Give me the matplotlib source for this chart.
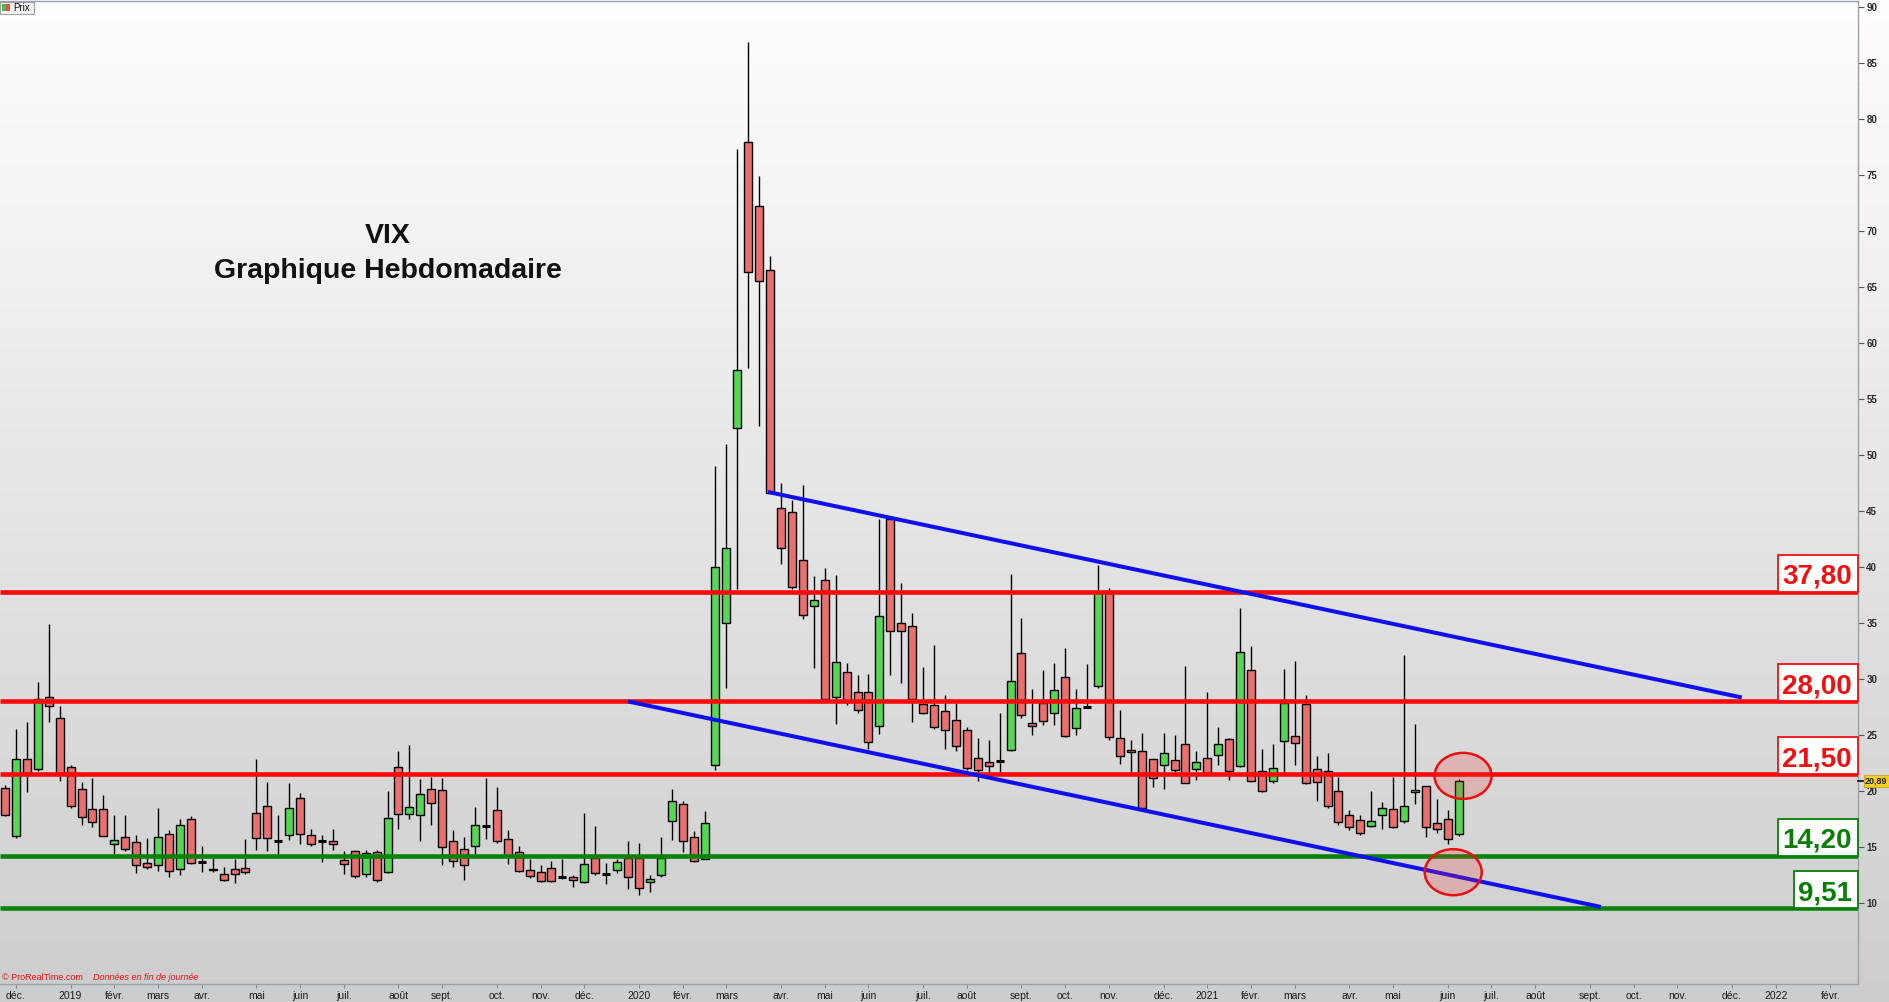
import numpy as np
import matplotlib
matplotlib.use("Agg")
import matplotlib.pyplot as plt
from matplotlib.patches import Rectangle, Ellipse
from matplotlib.transforms import IdentityTransform
import datetime as dt

plt.rcParams['font.family'] = ['Liberation Sans', 'DejaVu Sans']

# ---------------- data ----------------
first_week = dt.date(2018, 11, 26)   # Monday of the first weekly candle

opens = [20.3, 15.95, 22.9, 22.0, 28.36, 26.49, 22.1, 20.15, 18.36, 18.36,
         15.3, 15.86, 15.42, 13.54, 13.36, 16.13, 13.0, 17.47, 13.69, 13.07,
         12.56, 13.07, 13.1, 18.0, 18.63, 15.57, 16.04, 19.35, 16.04, 15.53,
         15.5, 13.8, 14.6, 12.56, 14.52, 12.74, 22.17, 17.92, 17.83, 20.15,
         20.06, 15.5, 14.79, 15.06, 16.9, 18.27, 15.68, 14.58, 12.92, 12.74,
         13.1, 12.32, 12.29, 11.85, 13.99, 12.62, 12.92, 13.99, 13.99, 11.85,
         12.47, 17.29, 18.8, 15.86, 13.9, 22.29, 35.0, 52.38, 77.98, 72.26,
         66.5, 45.3, 44.94, 40.6, 36.49, 38.81, 28.36, 30.66, 28.81, 28.81,
         25.77, 44.26, 34.97, 34.7, 27.74, 27.65, 27.11, 26.31, 25.42, 22.92,
         22.56, 22.68, 23.63, 32.29, 26.04, 27.83, 26.94, 30.15, 25.6, 27.5,
         29.35, 37.65, 24.7, 23.63, 23.54, 22.83, 22.29, 22.74, 24.17, 21.94,
         22.92, 23.18, 24.61, 22.2, 30.77, 21.76, 20.86, 24.43, 24.88, 27.74,
         21.94, 21.76, 19.97, 17.83, 17.38, 16.85, 17.83, 18.36, 17.29, 19.88,
         20.42, 17.11, 17.47, 16.13]

highs = [20.5, 25.5, 26.13, 29.7, 34.9, 27.6, 22.29, 20.8, 21.2, 19.6,
         17.82, 17.82, 16.04, 15.8, 18.45, 16.49, 17.47, 17.74, 15.12, 13.99,
         13.18, 13.9, 15.68, 22.9, 20.77, 17.82, 20.7, 19.79, 16.58, 16.04,
         16.58, 14.6, 14.7, 14.7, 14.7, 19.97, 23.54, 24.07, 21.04, 21.22,
         21.13, 16.49, 15.86, 18.54, 21.2, 20.4, 16.49, 15.06, 13.9, 13.36,
         13.72, 13.9, 12.47, 18.0, 16.9, 13.54, 13.9, 15.5, 15.32, 12.47,
         15.9, 20.15, 19.08, 16.4, 18.18, 49.0, 51.0, 77.3, 86.85, 74.9,
         67.8, 47.5, 46.0, 47.3, 39.17, 39.88, 39.26, 31.46, 30.33, 30.48,
         44.26, 44.5, 38.54, 35.86, 31.04, 33.07, 28.54, 27.83, 25.68, 24.76,
         24.52, 27.0, 39.35, 35.42, 29.08, 30.77, 31.43, 32.74, 29.08, 31.37,
         40.15, 38.1, 27.2, 24.52, 25.15, 22.83, 25.15, 24.97, 31.13, 23.54,
         28.81, 25.68, 24.7, 36.31, 32.92, 23.72, 24.17, 30.86, 31.58, 28.54,
         23.1, 23.36, 21.22, 18.27, 17.83, 19.97, 18.99, 21.22, 32.11, 25.95,
         20.42, 19.26, 18.27, 21.04]

lows = [17.8, 15.83, 19.94, 21.8, 26.16, 20.9, 18.51, 17.0, 16.8, 15.95,
        14.4, 14.6, 12.65, 13.06, 12.9, 12.35, 12.47, 13.45, 12.8, 12.74,
        11.93, 11.8, 12.56, 14.7, 14.6, 14.4, 15.6, 15.24, 15.12, 13.69,
        14.7, 12.56, 12.2, 12.29, 11.85, 12.65, 16.58, 17.47, 15.5, 17.0,
        13.36, 13.18, 12.02, 14.4, 15.74, 15.32, 13.45, 12.74, 12.2, 11.85,
        11.85, 12.1, 11.4, 11.76, 12.47, 11.67, 12.65, 11.22, 10.71, 10.95,
        12.29, 15.6, 14.52, 13.63, 13.9, 21.9, 29.17, 38.0, 57.74, 52.6,
        46.6, 40.3, 38.07, 35.4, 31.0, 28.0, 25.95, 27.65, 27.0, 23.72,
        25.06, 30.36, 29.6, 26.13, 26.85, 25.5, 23.72, 23.54, 21.9, 20.86,
        21.73, 21.73, 23.54, 26.49, 24.97, 25.86, 25.86, 24.79, 24.97, 27.4,
        29.17, 24.52, 22.38, 21.58, 18.27, 20.33, 20.15, 21.67, 20.68, 20.95,
        21.49, 22.29, 20.95, 22.11, 20.77, 19.88, 20.68, 21.6, 22.29, 20.6,
        19.08, 18.45, 16.93, 16.49, 16.04, 16.76, 16.58, 16.67, 17.11, 18.81,
        15.86, 16.22, 15.24, 15.95]

closes = [17.9, 22.9, 21.6, 28.24, 27.56, 21.58, 18.69, 17.65, 17.2, 15.95,
          15.6, 14.79, 13.36, 13.18, 15.86, 12.83, 16.93, 13.54, 13.69, 12.92,
          12.02, 12.56, 12.74, 15.77, 15.77, 15.57, 18.45, 16.13, 15.24, 15.53,
          15.24, 13.45, 12.38, 14.43, 12.02, 17.56, 17.92, 18.54, 19.7, 18.9,
          14.97, 13.72, 13.36, 16.93, 16.9, 15.5, 14.17, 12.83, 12.38, 11.93,
          11.93, 12.32, 12.02, 13.45, 12.65, 12.62, 13.63, 12.29, 11.31, 12.11,
          14.02, 19.08, 15.5, 13.72, 17.11, 39.97, 41.7, 57.6, 66.3, 65.5,
          46.64, 41.7, 38.24, 35.68, 37.03, 28.18, 31.55, 27.92, 27.2, 24.35,
          35.6, 34.26, 34.26, 28.18, 26.94, 25.68, 25.42, 23.99, 22.02, 21.84,
          22.2, 22.68, 29.79, 26.76, 25.77, 26.22, 28.99, 24.88, 27.38, 27.5,
          37.65, 24.79, 23.1, 23.45, 18.45, 21.13, 23.36, 21.84, 20.68, 22.56,
          21.58, 24.17, 21.76, 32.44, 20.86, 19.97, 22.02, 27.83, 24.26, 20.68,
          20.77, 18.63, 17.2, 16.76, 16.22, 17.29, 18.45, 16.76, 18.63, 20.06,
          16.76, 16.58, 15.68, 20.89]

red_levels = [37.80, 28.00, 21.50]
red_level_labels = ["37,80", "28,00", "21,50"]
green_levels = [14.20, 9.51]
green_level_labels = ["14,20", "9,51"]

# trend lines (week index, value)
upper_line_weeks = [69.8, 158.9]
upper_line_values = [46.7, 28.35]
lower_line_weeks = [57.0, 146.0]
lower_line_values = [28.0, 9.65]

# highlighted zones (week index, value)
circle_weeks = [133.4, 132.5]
circle_values = [21.35, 12.75]

last_price = 20.89
last_price_label = "20,89"

y_ticks = list(range(10, 91, 5))
month_names = ['janv.', 'févr.', 'mars', 'avr.', 'mai', 'juin', 'juil.',
               'août', 'sept.', 'oct.', 'nov.', 'déc.']

title_lines = ["VIX", "Graphique Hebdomadaire"]

# ---------------- figure ----------------
W, H = 1890, 1002
fig = plt.figure(figsize=(W / 100, H / 100), dpi=100)

bg = fig.add_axes([0, 0, 1, 1], zorder=-10)
g = np.linspace(254, 205, 600)[:, None] / 255.0
bg.imshow(np.dstack([g, g, g]), aspect='auto', extent=[0, 1, 0, 1])
bg.set_axis_off()

PXW = 10.93     # px per week
PXV = 11.2      # px per unit
x_left_px, x_right_px = 0, 1858
y_top_px, y_bot_px = 1, 984
ax = fig.add_axes([x_left_px / W, 1 - y_bot_px / H,
                   (x_right_px - x_left_px) / W, (y_bot_px - y_top_px) / H])
ax.set_facecolor('none')
ax.set_xlim(-5 / PXW, (x_right_px - 5) / PXW)
ax.set_ylim(40 - (y_bot_px - 567) / PXV, 40 + (567 - y_top_px) / PXV)

# candles
RED = '#ea6f6f'
GREEN = '#55d655'
bw = 8.0 / PXW
for i in range(len(opens)):
    o, h, l, c = opens[i], highs[i], lows[i], closes[i]
    ax.vlines(i, l, h, color='black', lw=1.0, zorder=3)
    if abs(c - o) < 1e-9:
        ax.hlines(o, i - bw / 2, i + bw / 2, color='black', lw=2.2, zorder=4)
    else:
        fc = GREEN if c > o else RED
        ax.add_patch(Rectangle((i - bw / 2, min(o, c)), bw, abs(c - o),
                               facecolor=fc, edgecolor='black', lw=1.0, zorder=4))

# horizontal levels
LRED = '#fa0a0a'
LGREEN = '#088208'
for v in red_levels:
    ax.axhline(v, color=LRED, lw=3.3, zorder=5, solid_capstyle='butt')
for v in green_levels:
    ax.axhline(v, color=LGREEN, lw=3.3, zorder=5, solid_capstyle='butt')

# trend lines
ax.plot(upper_line_weeks, upper_line_values, color='#1010ee', lw=2.9, zorder=5,
        solid_capstyle='butt')
ax.plot(lower_line_weeks, lower_line_values, color='#1010ee', lw=2.9, zorder=5,
        solid_capstyle='butt')

# circles
for cw, cv in zip(circle_weeks, circle_values):
    ax.add_patch(Ellipse((cw, cv), 57 / PXW, 46 / PXV, facecolor=(0.95, 0.2, 0.2, 0.22),
                         edgecolor='#e81010', lw=1.8, zorder=6))

# axes styling
ax.spines['left'].set_visible(False)
for s in ['right', 'bottom', 'top']:
    ax.spines[s].set_color('#98a2ac')
    ax.spines[s].set_linewidth(1.0)
ax.yaxis.tick_right()
ax.set_yticks(y_ticks)
ax.set_yticklabels([str(t) for t in y_ticks], fontweight='bold')
ax.tick_params(axis='y', length=4, width=0.8, color='#555555', pad=2,
               labelsize=7, labelcolor='#2a2a2a')

# month ticks at first weekly candle of each month
tick_pos, tick_lab = [], []
y, m = 2018, 12
while (y, m) <= (2022, 2):
    d = dt.date(y, m, 1)
    while d.weekday() != 0:
        d += dt.timedelta(days=1)
    tick_pos.append((d - first_week).days / 7.0)
    tick_lab.append(str(y) if m == 1 else month_names[m - 1])
    m += 1
    if m > 12:
        m, y = 1, y + 1
ax.set_xticks(tick_pos)
ax.set_xticklabels(tick_lab)
ax.tick_params(axis='x', length=3, width=0.8, color='#888888', pad=2,
               labelsize=7.5, labelcolor='#1a1a1a')

# level label texts
labels = []
for v, t in zip(red_levels, red_level_labels):
    a = ax.annotate(t, xy=(1, v), xycoords=('axes fraction', 'data'),
                    xytext=(-6, 8), textcoords='offset pixels', ha='right',
                    va='baseline', fontsize=20, fontweight='bold', color='#ee1111',
                    zorder=9, annotation_clip=False)
    labels.append((a, v, '#ee1111'))
for v, t in zip(green_levels, green_level_labels):
    a = ax.annotate(t, xy=(1, v), xycoords=('axes fraction', 'data'),
                    xytext=(-6, 8), textcoords='offset pixels', ha='right',
                    va='baseline', fontsize=20, fontweight='bold', color='#0b7d0b',
                    zorder=9, annotation_clip=False)
    labels.append((a, v, '#0b7d0b'))

# last price tag
ax.annotate(last_price_label, xy=(1, last_price), xycoords=('axes fraction', 'data'),
            xytext=(7, 0), textcoords='offset pixels', ha='left', va='center',
            fontsize=6.5, fontweight='bold', color='#222222', zorder=9,
            annotation_clip=False,
            bbox=dict(boxstyle='square,pad=0.15', fc='#f3cf2c', ec='#c8a516', lw=0.6))
ax.plot([1.0, 1.0025], [last_price, last_price], transform=ax.get_yaxis_transform(),
        color='black', lw=1.2, clip_on=False, zorder=9)

# title
fig.text(388 / W, 1 - 236 / H, title_lines[0], ha='center', va='center',
         fontsize=20.5, fontweight='bold', color='#111111')
fig.text(388 / W, 1 - 271 / H, title_lines[1], ha='center', va='center',
         fontsize=20.5, fontweight='bold', color='#111111')

# copyright
fig.text(2 / W, 1 - 977 / H, "© ProRealTime.com", ha='left', va='center',
         fontsize=6.5, color='#e01010')
fig.text(93 / W, 1 - 977 / H, "Données en fin de journée", ha='left', va='center',
         fontsize=6.5, color='#e01010', style='italic')

# legend box "Prix"
fig.patches.append(Rectangle((0, H - 14), 34, 12, transform=IdentityTransform(),
                             fc='#f2f2f2', ec='#a0a0a0', lw=0.8, figure=fig))
fig.patches.append(Rectangle((2, H - 11), 4, 7, transform=IdentityTransform(),
                             fc='#3ec43e', ec='none', figure=fig))
fig.patches.append(Rectangle((6, H - 11), 4, 7, transform=IdentityTransform(),
                             fc='#e05050', ec='none', figure=fig))
fig.text(13 / W, 1 - 8 / H, "Prix", ha='left', va='center', fontsize=7, color='#111111')

# label boxes (sized from rendered text)
fig.canvas.draw()
renderer = fig.canvas.get_renderer()
xr = ax.transAxes.transform((1, 0))[0]
for a, v, col in labels:
    bb = a.get_window_extent(renderer)
    y0 = ax.transData.transform((0, v))[1]
    x0 = bb.x0 - 4
    ax.add_patch(Rectangle((x0, y0), xr - x0, 37, transform=IdentityTransform(),
                           facecolor='white', edgecolor=col, lw=1.3, zorder=8,
                           clip_on=False))

fig.savefig('out.png', dpi=100)
